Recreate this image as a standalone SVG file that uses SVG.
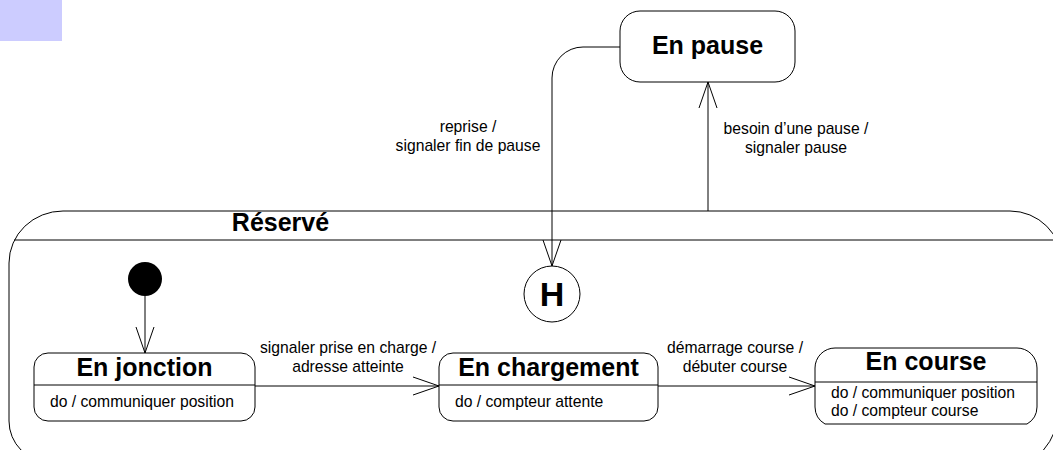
<svg xmlns="http://www.w3.org/2000/svg" width="1053" height="450" viewBox="0 0 1053 450">
<style>
.s{fill:#fff;stroke:#000;stroke-width:1}
.n{fill:none;stroke:#000;stroke-width:1}
.t{font-family:"Liberation Sans",Arial,sans-serif;font-weight:bold;font-size:25px;fill:#000;text-anchor:middle}
.l{font-family:"Liberation Sans",Arial,sans-serif;font-size:15.7px;fill:#000}
.m{text-anchor:middle}
</style>
<rect x="0" y="0" width="62" height="41" fill="#ccccff"/>
<g id="reserve">
<path class="s" d="M63,211 H1010 A52 52 0 0 1 1062,263 V392 A42 70 0 0 1 1020,462 H50 A41 41 0 0 1 9,421 V263 A54 52 0 0 1 63,211 Z"/>
<line class="n" x1="14" y1="240" x2="1057" y2="240"/>
<text class="t" x="280.5" y="231">Réservé</text>
</g>
<g id="en-pause">
<rect class="s" x="620" y="11" width="175" height="71" rx="20" ry="20"/>
<text class="t" x="707.5" y="54">En pause</text>
</g>
<g id="initial">
<circle cx="145" cy="279" r="17" fill="#000"/>
</g>
<g id="history">
<circle class="s" cx="552" cy="294" r="28"/>
<text class="t" x="552" y="306" style="font-size:34px">H</text>
</g>
<g id="en-jonction">
<rect class="s" x="34" y="353" width="221" height="68" rx="14" ry="14"/>
<line class="n" x1="34" y1="385" x2="255" y2="385"/>
<text class="t" x="144.5" y="376">En jonction</text>
<text class="l" x="50" y="407">do / communiquer position</text>
</g>
<g id="en-chargement">
<rect class="s" x="439" y="353" width="219" height="68" rx="14" ry="14"/>
<line class="n" x1="439" y1="385" x2="658" y2="385"/>
<text class="t" x="548.5" y="376">En chargement</text>
<text class="l" x="455" y="407">do / compteur attente</text>
</g>
<g id="en-course">
<path class="s" d="M835,348 H1017 A20 20 0 0 1 1037,368 V407 A20 20 0 0 1 1027,424 H825 A20 20 0 0 1 815,407 V368 A20 20 0 0 1 835,348 Z"/>
<line class="n" x1="815" y1="382" x2="1037" y2="382"/>
<text class="t" x="926" y="370">En course</text>
<text class="l" x="831" y="398">do / communiquer position</text>
<text class="l" x="831" y="416">do / compteur course</text>
</g>
<g id="connectors">
<path class="n" d="M620,47 H583 A31 31 0 0 0 552,78 V266"/>
<path class="n" d="M543,240 L552,266 L561,240"/>
<path class="n" d="M708,211 V82"/>
<path class="n" d="M699,108 L708,82 L717,108"/>
<path class="n" d="M145,296 V353"/>
<path class="n" d="M136,327 L145,353 L154,327"/>
<path class="n" d="M255,386 H439"/>
<path class="n" d="M413,377 L439,386 L413,395"/>
<path class="n" d="M658,386 H815"/>
<path class="n" d="M789,377 L815,386 L789,395"/>
</g>
<g id="labels">
<text class="l m" x="468" y="132">reprise /</text>
<text class="l m" x="468" y="151">signaler fin de pause</text>
<text class="l m" x="796" y="134">besoin d’une pause /</text>
<text class="l m" x="796" y="153">signaler pause</text>
<text class="l m" x="348" y="353">signaler prise en charge /</text>
<text class="l m" x="348" y="372">adresse atteinte</text>
<text class="l m" x="735" y="353">démarrage course /</text>
<text class="l m" x="735" y="372">débuter course</text>
</g>
</svg>
